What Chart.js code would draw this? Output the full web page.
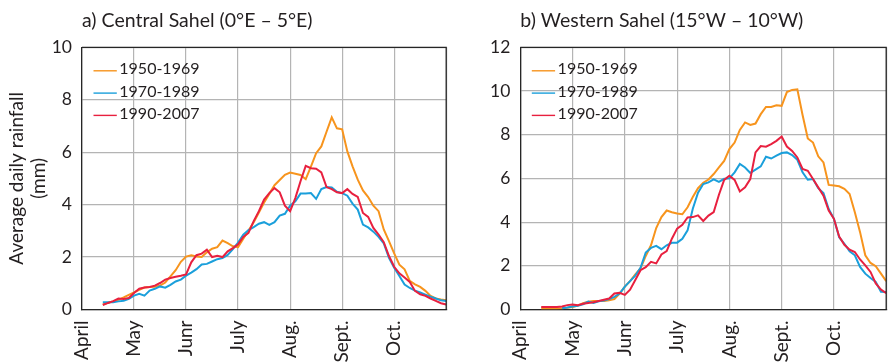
<!DOCTYPE html>
<html>
<head>
<meta charset="utf-8">
<script src="https://cdn.jsdelivr.net/npm/chart.js@4.4.1/dist/chart.umd.min.js"></script>
<style>
  html, body { margin: 0; padding: 0; background: #ffffff; overflow: hidden; width: 890px; height: 364px; }
  #wrap { position: relative; width: 890px; height: 364px; overflow: hidden; }
  canvas { position: absolute; top: 0; }
  #central { left: 0; }
  #western { left: 460px; }
</style>
</head>
<body>
<div id="wrap">
  <canvas id="central" width="480" height="364"></canvas>
  <canvas id="western" width="460" height="364"></canvas>
</div>
<script>
// Month tick labels (one per gridline, the last gridline closes October)
const monthLabels = ['April', 'May', 'Junr', 'July', 'Aug.', 'Sept.', 'Oct.', ''];

// Period names for the three averaging windows
const seriesNames = ['1950-1969', '1970-1989', '1990-2007'];

// Position along the season, in months after 1 April
const monthPos = [
  0.4, 0.5, 0.6, 0.7, 0.8, 0.9, 1.0, 1.1, 1.2, 1.3,
  1.4, 1.5, 1.6, 1.7, 1.8, 1.9, 2.0, 2.1, 2.2, 2.3,
  2.4, 2.5, 2.6, 2.7, 2.8, 2.9, 3.0, 3.1, 3.2, 3.3,
  3.4, 3.5, 3.6, 3.7, 3.8, 3.9, 4.0, 4.1, 4.2, 4.3,
  4.4, 4.5, 4.6, 4.7, 4.8, 4.9, 5.0, 5.1, 5.2, 5.3,
  5.4, 5.5, 5.6, 5.7, 5.8, 5.9, 6.0, 6.1, 6.2, 6.3,
  6.4, 6.5, 6.6, 6.7, 6.8, 6.9, 7.0
];

// a) Central Sahel (0°E – 5°E), average daily rainfall in mm
const central1950 = [
  0.19, 0.26, 0.31, 0.37, 0.46, 0.56, 0.65, 0.75, 0.84, 0.86,
  0.87, 0.91, 1.03, 1.26, 1.50, 1.82, 2.02, 2.07, 2.02, 2.00,
  2.18, 2.32, 2.38, 2.63, 2.53, 2.41, 2.38, 2.70, 3.01, 3.33,
  3.70, 4.08, 4.41, 4.74, 4.94, 5.14, 5.22, 5.18, 5.13, 4.97,
  5.45, 5.96, 6.22, 6.78, 7.33, 6.91, 6.87, 6.03, 5.46, 4.95,
  4.54, 4.29, 3.96, 3.75, 3.05, 2.61, 2.14, 1.71, 1.53, 1.09,
  0.96, 0.86, 0.71, 0.52, 0.42, 0.38, 0.35
];
const central1970 = [
  0.28, 0.28, 0.28, 0.31, 0.33, 0.41, 0.53, 0.60, 0.53, 0.72,
  0.79, 0.88, 0.83, 0.94, 1.07, 1.14, 1.29, 1.41, 1.54, 1.72,
  1.74, 1.83, 1.92, 1.96, 2.08, 2.30, 2.55, 2.85, 3.03, 3.14,
  3.27, 3.33, 3.23, 3.33, 3.58, 3.65, 3.96, 4.13, 4.42, 4.42,
  4.44, 4.22, 4.59, 4.67, 4.65, 4.49, 4.44, 4.34, 4.04, 3.81,
  3.24, 3.13, 2.97, 2.77, 2.52, 1.97, 1.59, 1.28, 0.95, 0.82,
  0.72, 0.65, 0.57, 0.49, 0.42, 0.35, 0.32
];
const central1990 = [
  0.17, 0.25, 0.32, 0.42, 0.40, 0.44, 0.63, 0.79, 0.84, 0.86,
  0.91, 1.01, 1.14, 1.20, 1.25, 1.29, 1.34, 1.80, 2.07, 2.13,
  2.28, 2.00, 2.05, 2.00, 2.22, 2.34, 2.49, 2.77, 2.92, 3.37,
  3.75, 4.19, 4.44, 4.63, 4.47, 3.96, 3.75, 4.25, 4.89, 5.48,
  5.39, 5.37, 5.23, 4.67, 4.59, 4.47, 4.44, 4.59, 4.41, 4.29,
  3.68, 3.53, 3.11, 2.86, 2.57, 2.04, 1.63, 1.38, 1.22, 1.05,
  0.71, 0.58, 0.52, 0.42, 0.33, 0.24, 0.19
];

// b) Western Sahel (15°W – 10°W), average daily rainfall in mm
const western1950 = [
  0.05, 0.05, 0.05, 0.05, 0.06, 0.08, 0.11, 0.18, 0.29, 0.35,
  0.39, 0.39, 0.39, 0.42, 0.48, 0.73, 1.05, 1.30, 1.61, 1.88,
  2.45, 2.94, 3.73, 4.23, 4.53, 4.45, 4.39, 4.36, 4.68, 5.15,
  5.55, 5.80, 5.95, 6.20, 6.50, 6.80, 7.34, 7.64, 8.22, 8.56,
  8.45, 8.51, 8.94, 9.27, 9.27, 9.35, 9.32, 9.95, 10.05, 10.08,
  8.90, 7.83, 7.64, 7.01, 6.73, 5.70, 5.67, 5.64, 5.52, 5.29,
  4.45, 3.54, 2.48, 2.13, 1.98, 1.64, 1.30
];
const western1970 = [
  null, null, null, null, 0.06, 0.09, 0.14, 0.17, 0.24, 0.36,
  0.30, 0.38, 0.41, 0.48, 0.58, 0.73, 1.05, 1.30, 1.55, 1.91,
  2.61, 2.82, 2.91, 2.76, 2.94, 3.05, 3.06, 3.24, 3.62, 4.61,
  5.35, 5.74, 5.82, 5.96, 5.84, 5.98, 6.00, 6.28, 6.66, 6.50,
  6.25, 6.40, 6.55, 6.99, 6.91, 7.04, 7.16, 7.19, 7.07, 6.85,
  6.28, 5.94, 5.97, 5.55, 5.33, 4.60, 4.15, 3.31, 3.01, 2.66,
  2.48, 1.95, 1.64, 1.44, 1.26, 0.81, 0.80
];
const western1990 = [
  0.11, 0.11, 0.11, 0.11, 0.14, 0.20, 0.23, 0.20, 0.26, 0.30,
  0.33, 0.39, 0.45, 0.50, 0.73, 0.76, 0.67, 0.91, 1.35, 1.80,
  1.94, 2.18, 2.11, 2.52, 2.67, 3.24, 3.70, 3.88, 4.21, 4.23,
  4.31, 4.05, 4.30, 4.46, 5.25, 5.93, 6.12, 5.93, 5.40, 5.59,
  5.97, 7.19, 7.48, 7.45, 7.57, 7.72, 7.92, 7.46, 7.26, 6.96,
  6.43, 6.35, 5.97, 5.59, 5.21, 4.53, 4.15, 3.34, 2.96, 2.74,
  2.63, 2.29, 2.02, 1.72, 1.19, 0.91, 0.75
];

// Styling
const seriesColors = ['#F7941D', '#1A9FDB', '#E8203F'];
const drawOrder = [3, 2, 1];           // 1990-2007 drawn on top
const inkColor = '#231F20';
const gridColor = '#B4B4B4';
const axisColor = '#262626';
const fontFamily = 'Lato, "Open Sans", sans-serif';

// Closes the plot box along the top and right edges
const frameBox = {
  id: 'frameBox',
  afterDraw(chart) {
    const a = chart.chartArea;
    const ctx = chart.ctx;
    ctx.save();
    ctx.strokeStyle = axisColor;
    ctx.lineWidth = 1.3;
    ctx.beginPath();
    ctx.moveTo(a.left, a.top);
    ctx.lineTo(a.right, a.top);
    ctx.lineTo(a.right, a.bottom);
    ctx.stroke();
    ctx.restore();
  }
};

// Legend drawn inside the top-left corner of the plot area
const insetLegend = {
  id: 'insetLegend',
  afterDraw(chart) {
    const a = chart.chartArea;
    const ctx = chart.ctx;
    ctx.save();
    ctx.font = '16px ' + fontFamily;
    ctx.textBaseline = 'middle';
    ctx.textAlign = 'left';
    chart.data.datasets.forEach((ds, i) => {
      const y = a.top + 23.5 + i * 22.3;
      ctx.strokeStyle = ds.borderColor;
      ctx.lineWidth = 1.4;
      ctx.beginPath();
      ctx.moveTo(a.left + 11.5, y);
      ctx.lineTo(a.left + 34.8, y);
      ctx.stroke();
      ctx.fillStyle = inkColor;
      ctx.fillText(ds.label, a.left + 37.3, y - 1.5);
    });
    ctx.restore();
  }
};

function buildPanel(canvasId, titleText, yMax, yTitle, axisWidth, padRight, values) {
  const datasets = seriesNames.map((name, i) => ({
    label: name,
    data: monthPos.map((m, k) => ({ x: m, y: values[i][k] })),
    borderColor: seriesColors[i],
    backgroundColor: seriesColors[i],
    borderWidth: 2,
    pointRadius: 0,
    tension: 0,
    fill: false,
    spanGaps: false,
    order: drawOrder[i]
  }));

  return new Chart(document.getElementById(canvasId), {
    type: 'line',
    data: { datasets },
    options: {
      responsive: false,
      animation: false,
      devicePixelRatio: 1,
      layout: { padding: { left: 0, right: padRight, top: 0, bottom: 0 } },
      plugins: {
        legend: { display: false },
        tooltip: { enabled: false },
        title: {
          display: true,
          text: titleText,
          align: 'start',
          fullSize: false,
          color: inkColor,
          font: { family: fontFamily, size: 19.5, weight: 'normal', lineHeight: 1.2 },
          padding: { top: 9, bottom: 14.9 }
        }
      },
      scales: {
        x: {
          type: 'linear',
          min: 0,
          max: 7,
          afterFit(scale) { scale.height = 54.5; },
          ticks: {
            stepSize: 1,
            autoSkip: false,
            minRotation: 90,
            maxRotation: 90,
            padding: 11,
            color: inkColor,
            font: { family: fontFamily, size: 19 },
            callback: (v) => monthLabels[v] ?? ''
          },
          grid: { color: gridColor, lineWidth: 1.2, drawTicks: false },
          border: { color: axisColor, width: 1.3 }
        },
        y: {
          min: 0,
          max: yMax,
          afterFit(scale) { scale.width = axisWidth; },
          ticks: {
            stepSize: 2,
            padding: 10,
            color: inkColor,
            font: { family: fontFamily, size: 17.5 }
          },
          grid: { color: gridColor, lineWidth: 1.2, drawTicks: false },
          border: { color: axisColor, width: 1.3 },
          title: yTitle ? {
            display: true,
            text: yTitle,
            color: inkColor,
            font: { family: fontFamily, size: 19, lineHeight: 1.16 },
            padding: { top: 6, bottom: 0 }
          } : { display: false }
        }
      }
    },
    plugins: [frameBox, insetLegend]
  });
}

buildPanel('central', 'a) Central Sahel (0°E – 5°E)', 10,
  ['Average daily rainfall', '(mm)'], 82, 26,
  [central1950, central1970, central1990]);

buildPanel('western', 'b) Western Sahel (15°W – 10°W)', 12,
  null, 60.3, 28,
  [western1950, western1970, western1990]);
</script>
</body>
</html>
